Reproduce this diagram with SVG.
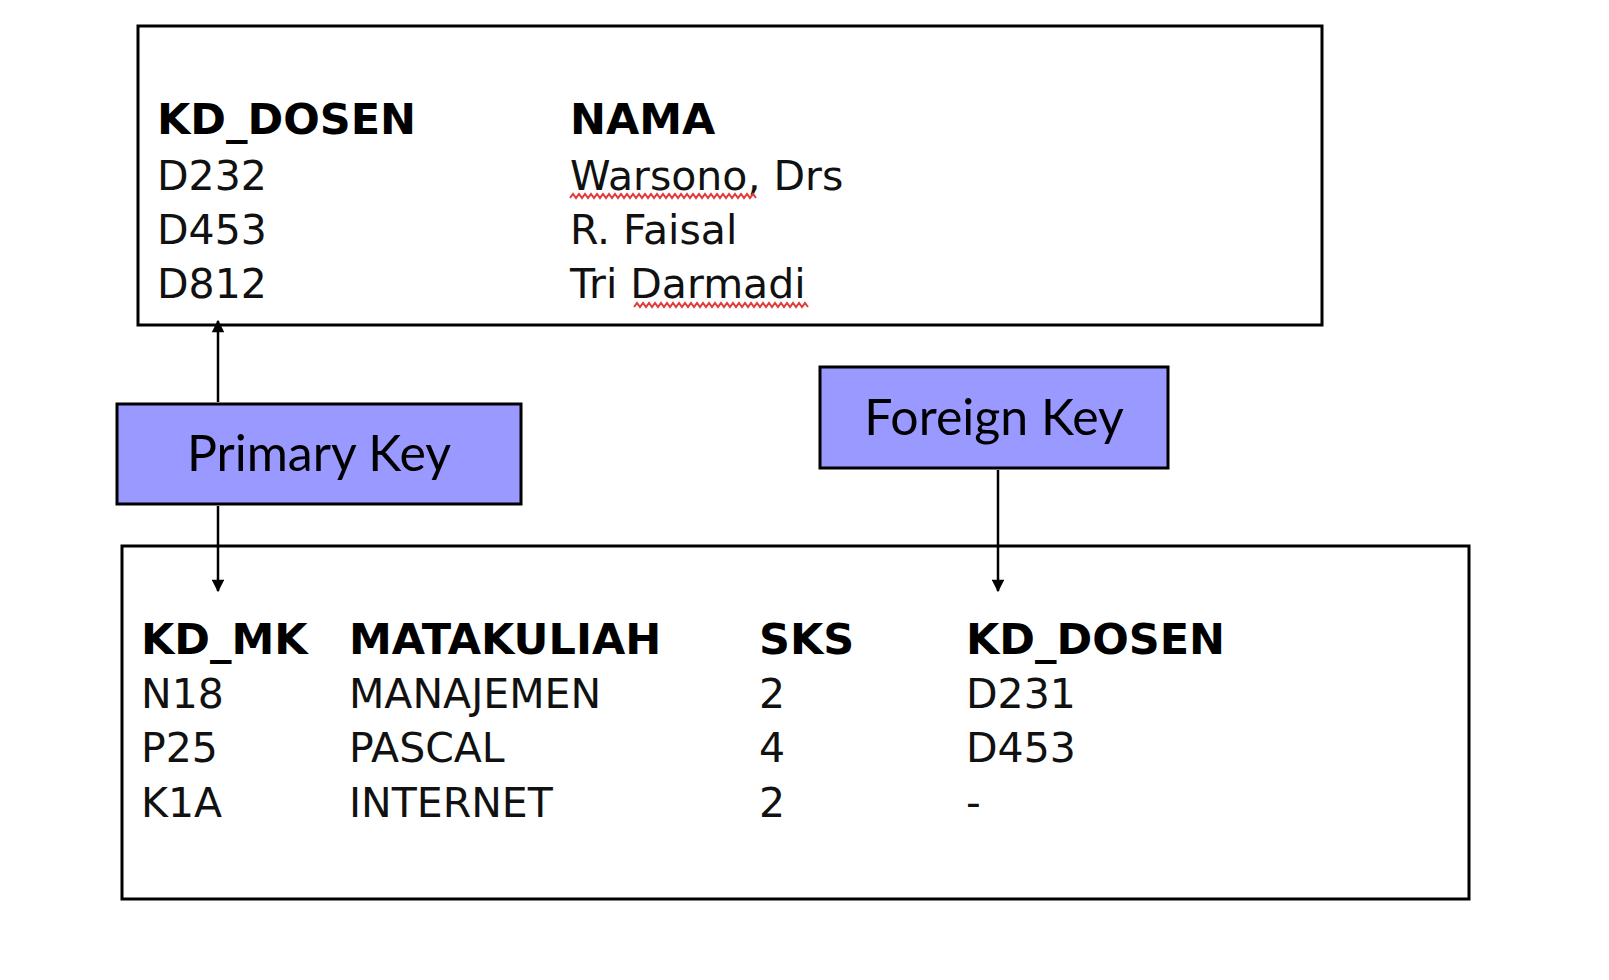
<svg xmlns="http://www.w3.org/2000/svg" width="1609" height="980" viewBox="0 0 1609 980">
<style>
.tbl{fill:#ffffff;stroke:#000000;stroke-width:3}
.key{fill:#9999ff;stroke:#000000;stroke-width:3}
.hd{font-family:"DejaVu Sans",Verdana,sans-serif;font-weight:bold;font-size:43px;fill:#000}
.tx{font-family:"DejaVu Sans",Verdana,sans-serif;font-size:41px;fill:#111}
.lbl{font-family:Lato,"Open Sans",sans-serif;font-size:50px;fill:#000;text-anchor:middle}
.conn{stroke:#000;stroke-width:2.5;fill:none}
.sq{stroke:#e23b3b;stroke-width:2;fill:none}
</style>
<defs>
<marker id="ah" viewBox="0 0 10 10" refX="9" refY="5" markerWidth="5.5" markerHeight="5" orient="auto" markerUnits="strokeWidth">
<path d="M0,0 L10,5 L0,10 Z" fill="#000"/>
</marker>
</defs>
<rect width="1609" height="980" fill="#ffffff"/>
<g id="dosen">
<rect class="tbl" x="138" y="26" width="1184" height="299"/>
<text class="hd" x="157" y="134">KD_DOSEN</text>
<text class="hd" x="570" y="134">NAMA</text>
<text class="tx" x="157" y="190">D232</text>
<text class="tx" x="570" y="190">Warsono, Drs</text>
<text class="tx" x="157" y="244">D453</text>
<text class="tx" x="570" y="244">R. Faisal</text>
<text class="tx" x="157" y="298">D812</text>
<text class="tx" x="570" y="298">Tri Darmadi</text>
<path class="sq" d="M570,198 l3,-4 l3,4 l3,-4 l3,4 l3,-4 l3,4 l3,-4 l3,4 l3,-4 l3,4 l3,-4 l3,4 l3,-4 l3,4 l3,-4 l3,4 l3,-4 l3,4 l3,-4 l3,4 l3,-4 l3,4 l3,-4 l3,4 l3,-4 l3,4 l3,-4 l3,4 l3,-4 l3,4 l3,-4 l3,4 l3,-4 l3,4 l3,-4 l3,4 l3,-4 l3,4 l3,-4 l3,4 l3,-4 l3,4 l3,-4 l3,4 l3,-4 l3,4 l3,-4 l3,4 l3,-4 l3,4 l3,-4 l3,4 l3,-4 l3,4 l3,-4 l3,4 l3,-4 l3,4 l3,-4 l3,4 l3,-4 l3,4"/>
<path class="sq" d="M634,307 l3,-4 l3,4 l3,-4 l3,4 l3,-4 l3,4 l3,-4 l3,4 l3,-4 l3,4 l3,-4 l3,4 l3,-4 l3,4 l3,-4 l3,4 l3,-4 l3,4 l3,-4 l3,4 l3,-4 l3,4 l3,-4 l3,4 l3,-4 l3,4 l3,-4 l3,4 l3,-4 l3,4 l3,-4 l3,4 l3,-4 l3,4 l3,-4 l3,4 l3,-4 l3,4 l3,-4 l3,4 l3,-4 l3,4 l3,-4 l3,4 l3,-4 l3,4 l3,-4 l3,4 l3,-4 l3,4 l3,-4 l3,4 l3,-4 l3,4 l3,-4 l3,4 l3,-4 l3,4"/>
</g>
<g id="matakuliah">
<rect class="tbl" x="122" y="546" width="1347" height="353"/>
<text class="hd" x="141" y="654">KD_MK</text>
<text class="hd" x="349" y="654">MATAKULIAH</text>
<text class="hd" x="759" y="654">SKS</text>
<text class="hd" x="966" y="654">KD_DOSEN</text>
<text class="tx" x="141" y="708">N18</text>
<text class="tx" x="349" y="708">MANAJEMEN</text>
<text class="tx" x="759" y="708">2</text>
<text class="tx" x="966" y="708">D231</text>
<text class="tx" x="141" y="762">P25</text>
<text class="tx" x="349" y="762">PASCAL</text>
<text class="tx" x="759" y="762">4</text>
<text class="tx" x="966" y="762">D453</text>
<text class="tx" x="141" y="817">K1A</text>
<text class="tx" x="349" y="817">INTERNET</text>
<text class="tx" x="759" y="817">2</text>
<text class="tx" x="966" y="817">-</text>
</g>
<g id="primary-key">
<rect class="key" x="117" y="404" width="404" height="100"/>
<text class="lbl" x="319" y="471">Primary Key</text>
</g>
<g id="foreign-key">
<rect class="key" x="820" y="367" width="348" height="101"/>
<text class="lbl" x="994" y="435">Foreign Key</text>
</g>
<g id="connectors">
<line class="conn" x1="218" y1="402" x2="218" y2="321" marker-end="url(#ah)"/>
<line class="conn" x1="218" y1="506" x2="218" y2="591" marker-end="url(#ah)"/>
<line class="conn" x1="998" y1="470" x2="998" y2="591" marker-end="url(#ah)"/>
</g>
</svg>
